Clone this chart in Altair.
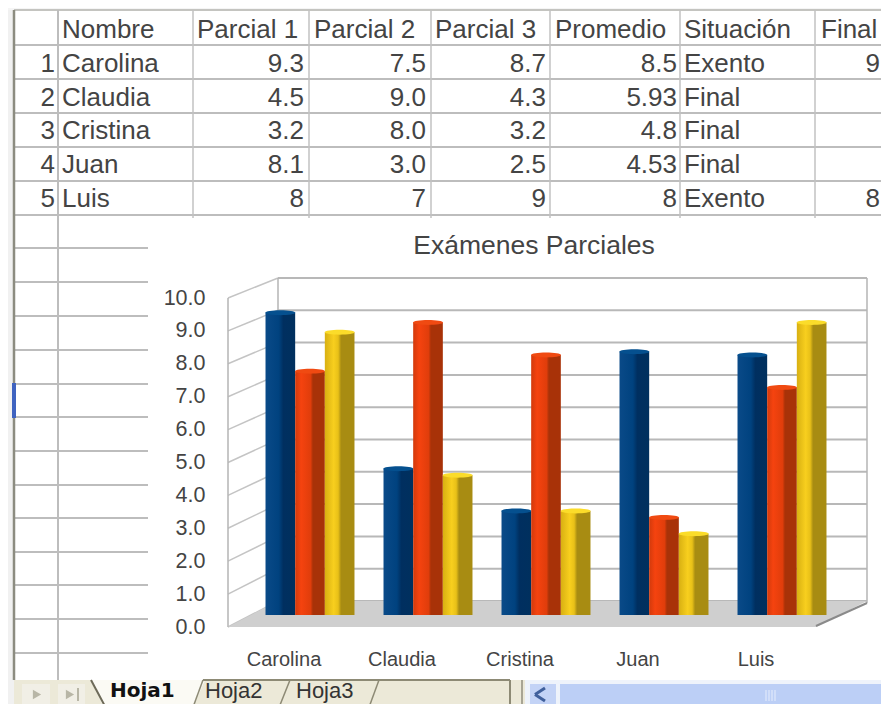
import altair as alt
import pandas as pd

# ---------- values ----------
nombres = ["Carolina", "Claudia", "Cristina", "Juan", "Luis"]
parcial_1 = [9.3, 4.5, 3.2, 8.1, 8.0]
parcial_2 = [7.5, 9.0, 8.0, 3.0, 7.0]
parcial_3 = [8.7, 4.3, 3.2, 2.5, 9.0]
txt_index = ["1", "2", "3", "4", "5"]
txt_p1 = ["9.3", "4.5", "3.2", "8.1", "8"]
txt_p2 = ["7.5", "9.0", "8.0", "3.0", "7"]
txt_p3 = ["8.7", "4.3", "3.2", "2.5", "9"]
txt_prom = ["8.5", "5.93", "4.8", "4.53", "8"]
txt_sit = ["Exento", "Final", "Final", "Final", "Exento"]
txt_final = ["9", "", "", "", "8"]
headers = ["Nombre", "Parcial 1", "Parcial 2", "Parcial 3", "Promedio", "Situación", "Final"]
series = ["Parcial 1", "Parcial 2", "Parcial 3"]
title_text = "Exámenes Parciales"
tabs = ["Hoja1", "Hoja2", "Hoja3"]
ticks = [0, 1, 2, 3, 4, 5, 6, 7, 8, 9, 10]

# ---------- page geometry (reference pixels, page margin removed by px/py) ----------
W, H = 873, 696
px = lambda v: v - 8
py = lambda v: v - 8
TXT = "#444444"
GRID = "#b8b8b8"
WALL = "#b4b4b4"
FONT = "Liberation Sans"


def rects(rows):
    d = pd.DataFrame(
        [dict(x=px(a), x2=px(b), y=py(c), y2=py(e), f=f) for a, b, c, e, f in rows]
    )
    return alt.Chart(d).mark_rect().encode(
        x=alt.X("x:Q", scale=None, axis=None), x2="x2:Q",
        y=alt.Y("y:Q", scale=None, axis=None), y2="y2:Q",
        fill=alt.Fill("f:N", scale=None),
    )


def rules(rows):
    d = pd.DataFrame(
        [dict(x=px(a), x2=px(b), y=py(c), y2=py(e), c=col, w=w) for a, b, c, e, col, w in rows]
    )
    return alt.Chart(d).mark_rule().encode(
        x=alt.X("x:Q", scale=None, axis=None), x2="x2:Q",
        y=alt.Y("y:Q", scale=None, axis=None), y2="y2:Q",
        color=alt.Color("c:N", scale=None),
        strokeWidth=alt.StrokeWidth("w:Q", scale=None),
    )


def poly(y_top, x_top, x2_top, y_bot, x_bot, x2_bot, fill):
    d = pd.DataFrame({
        "y": [py(y_top), py(y_bot)],
        "x": [px(x_top), px(x_bot)],
        "x2": [px(x2_top), px(x2_bot)],
    })
    return alt.Chart(d).mark_area(orient="horizontal", color=fill).encode(
        y=alt.Y("y:Q", scale=None, axis=None),
        x=alt.X("x:Q", scale=None, axis=None),
        x2="x2:Q",
    )


# ---------- sheet chrome ----------
row_lines = [45, 79, 113, 147, 181, 215]
below_lines = [248, 282, 316, 350, 384, 417, 451, 485, 518, 552, 585, 619, 653]
col_lines = [58, 193, 309, 431, 550, 680, 815]

background = rects([
    (8, 14, 8, 720, "#f1f1f1"),
    (8, 889, 8, 10, "#f5f5f5"),
])
sheet_rules = rules(
    [(14, 889, 10, 10, "#c4c4c0", 2)]
    + [(14, 889, y, y, "#bdbdbd", 2) for y in row_lines]
    + [(14, 148, y, y, "#bdbdbd", 2) for y in below_lines]
    + [(x, x, 10, 218, "#c2c2c2", 1.5) for x in col_lines[1:]]
    + [(58, 58, 10, 680, "#bdbdbd", 2), (14, 14, 10, 680, "#8c8c80", 2.5)]
)
selected = rects([(12, 16, 383, 418, "#3f63c0")])

# ---------- table text ----------
ROWS = ["h", "1", "2", "3", "4", "5"]
row_scale = alt.Scale(type="point", domain=ROWS, range=[py(30), py(199)], padding=0)


def column(values, xpos, align, rows=ROWS[1:]):
    d = pd.DataFrame({"row": list(rows), "t": list(values)})
    d = d[d.t != ""]
    return alt.Chart(d).mark_text(
        align=align, baseline="middle", font=FONT, fontSize=26, color=TXT
    ).encode(
        x=alt.value(px(xpos)),
        y=alt.Y("row:O", scale=row_scale, axis=None),
        text="t:N",
    )


table = [
    column(txt_index, 55, "right"),
    column(nombres, 62, "left"),
    column(txt_p1, 304, "right"),
    column(txt_p2, 426, "right"),
    column(txt_p3, 546, "right"),
    column(txt_prom, 677, "right"),
    column(txt_sit, 684, "left"),
    column(txt_final, 880, "right"),
]
for h, xh in zip(headers, [62, 197, 314, 435, 555, 684, 821]):
    table.append(column([h], xh, "left", rows=["h"]))

title = alt.Chart(pd.DataFrame({"t": [title_text]})).mark_text(
    align="center", baseline="middle", font=FONT, fontSize=26.5, color=TXT
).encode(x=alt.value(px(534)), y=alt.value(py(246)), text="t:N")

# ---------- 3D frame ----------
FRONT_0, FRONT_10 = 627, 298
BACK_0, BACK_10 = 601, 278
front_scale = alt.Scale(domain=[0, 10], range=[py(FRONT_0), py(FRONT_10)])
back_scale = alt.Scale(domain=[0, 10], range=[py(BACK_0), py(BACK_10)])

tick_df = pd.DataFrame({"v": ticks})
back_equiv = [
    (FRONT_0 - (BACK_0 + (BACK_10 - BACK_0) * v / 10)) / (FRONT_0 - FRONT_10) * 10 for v in ticks
]
tick_df["v2"] = back_equiv

side_grid = alt.Chart(tick_df).mark_rule(color="#c4c4c4", strokeWidth=1.5).encode(
    x=alt.value(px(228)), x2=alt.value(px(278)),
    y=alt.Y(
        "v:Q", scale=front_scale,
        axis=alt.Axis(
            values=ticks, format=".1f", domain=False, ticks=False, grid=False, title=None,
            labelFont=FONT, labelFontSize=21.5, labelColor=TXT, labelPadding=0,
            offset=-px(205),
        ),
    ),
    y2="v2:Q",
)
back_grid = alt.Chart(tick_df).mark_rule(color=GRID, strokeWidth=2).encode(
    x=alt.value(px(278)), x2=alt.value(px(867)),
    y=alt.Y("v:Q", scale=back_scale, axis=None),
)
walls = rules([
    (228, 228, 298, 627, WALL, 1.5),
    (278, 278, 278, 601, WALL, 1.5),
    (867, 867, 278, 603, WALL, 1.5),
])
floor = poly(601, 278, 867, 627, 228, 816, "#cfcfcf")
floor_edge = rules([(816, 867, 626, 603, "#8a8a8a", 2)])

# ---------- bars ----------
bar_df = pd.DataFrame({
    "Nombre": nombres * 3,
    "Serie": [s for s in series for _ in nombres],
    "Valor": parcial_1 + parcial_2 + parcial_3,
})
x_enc = alt.X(
    "Nombre:N",
    scale=alt.Scale(type="band", domain=nombres, range=[px(251), px(841)],
                    paddingInner=0.246, paddingOuter=0.123),
    axis=alt.Axis(
        domain=False, ticks=False, grid=False, title=None, labelAngle=0,
        labelFont=FONT, labelFontSize=20, labelColor=TXT, labelOffset=-26,
        labelPadding=0, labelBaseline="middle", offset=-(H - py(659)),
    ),
)
off_enc = alt.XOffset("Serie:N", scale=alt.Scale(domain=series, paddingInner=0, paddingOuter=0))
y_enc = alt.Y("Valor:Q", scale=alt.Scale(domain=[0, 10], range=[py(615), py(290)]), axis=None)


def grad(stops):
    return alt.Gradient(
        gradient="linear", x1=0, x2=1, y1=0, y2=0,
        stops=[alt.GradientStop(offset=o, color=c) for o, c in stops],
    )


looks = {
    "Parcial 1": (
        [(0, "#0a4a88"), (0.45, "#00427f"), (0.6, "#002f60"), (1, "#00305e")], "#05508f"),
    "Parcial 2": (
        [(0, "#d23a0c"), (0.2, "#f5430f"), (0.52, "#e03d0b"), (0.6, "#a83208"), (1, "#a83208")], "#f04a12"),
    "Parcial 3": (
        [(0, "#d8b012"), (0.3, "#f8cf1e"), (0.45, "#e8c018"), (0.55, "#a88c12"), (1, "#a88c12")], "#fbdc2a"),
}
ELLIPSE = "M-1,0 A1,0.16 0 1 1 1,0 A1,0.16 0 1 1 -1,0 Z"
bar_layers = []
for s in series:
    g, cap = looks[s]
    base = alt.Chart(bar_df).transform_filter(alt.datum.Serie == s)
    bar_layers.append(
        base.mark_bar(color=grad(g), stroke=None).encode(x=x_enc, xOffset=off_enc, y=y_enc)
    )
    bar_layers.append(
        base.mark_point(shape=ELLIPSE, filled=True, color=cap, opacity=1, size=900, strokeWidth=0)
        .encode(x=x_enc, xOffset=off_enc, y=y_enc)
    )
bars = alt.layer(*bar_layers)

# ---------- tab bar ----------
tab_bg = rects([
    (14, 525, 680, 720, "#ece9d8"),
    (525, 889, 680, 720, "#eef3fb"),
    (22, 50, 684, 709, "#f1efe6"),
    (58, 85, 684, 709, "#f1efe6"),
    (530, 556, 684, 708, "#c3d3f6"),
    (560, 889, 684, 708, "#bccff6"),
])
tab_active = poly(680, 91, 205, 710, 105, 192, "#fbfaf4")
tab_lines = rules([
    (91, 107, 680, 710, "#6d6a58", 2),
    (192, 203, 710, 680, "#8d8a75", 1.5),
    (203, 290, 680, 680, "#8d8a75", 2),
    (278, 290, 710, 680, "#8d8a75", 1.5),
    (290, 510, 680, 680, "#8d8a75", 2),
    (368, 379, 710, 680, "#8d8a75", 1.5),
    (510, 510, 680, 712, "#8d8a75", 2),
    (522, 522, 680, 712, "#a8a594", 2),
    (545, 535, 688, 694.5, "#40609c", 3),
    (535, 545, 694.5, 701, "#40609c", 3),
    (766, 766, 690, 701, "#e6edfc", 1),
    (769, 769, 690, 701, "#e6edfc", 1),
    (772, 772, 690, 701, "#e6edfc", 1),
    (775, 775, 690, 701, "#e6edfc", 1),
    (78, 78, 688, 701, "#b8b6a6", 2),
])
arrows = alt.Chart(pd.DataFrame({"x": [px(37), px(70)], "y": [py(694.5), py(694.5)]})).mark_point(
    shape="triangle-right", filled=True, color="#b8b6a6", size=90, opacity=1
).encode(x=alt.X("x:Q", scale=None, axis=None), y=alt.Y("y:Q", scale=None, axis=None))


def tab_text(t, xpos, font, size, weight, color):
    return alt.Chart(pd.DataFrame({"t": [t]})).mark_text(
        align="left", baseline="middle", font=font, fontSize=size, fontWeight=weight, color=color
    ).encode(x=alt.value(px(xpos)), y=alt.value(py(691)), text="t:N")


tab_texts = [
    tab_text(tabs[0], 110, "DejaVu Sans", 20, "bold", "#111111"),
    tab_text(tabs[1], 205, FONT, 22, "normal", "#333333"),
    tab_text(tabs[2], 296, FONT, 22, "normal", "#333333"),
]

chart = alt.layer(
    background, sheet_rules, selected, *table, title,
    back_grid, side_grid, walls, floor, floor_edge, bars,
    tab_bg, tab_active, tab_lines, arrows, *tab_texts,
).resolve_scale(x="independent", y="independent").resolve_axis(x="independent", y="independent").properties(
    width=W, height=H, padding=0, autosize=alt.AutoSizeParams(type="none"),
).configure_view(stroke=None)

chart.save("out.html", embed_options={"renderer": "svg", "actions": False})
